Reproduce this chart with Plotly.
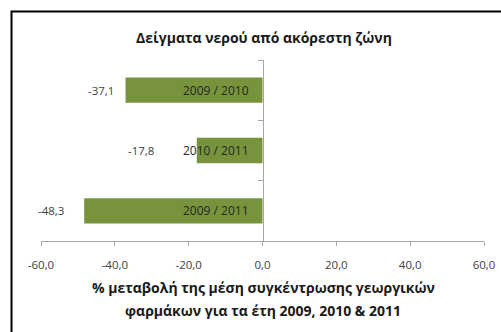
import plotly.graph_objects as go

categories = ["2009 / 2010", "2010 / 2011", "2009 / 2011"]
values = [-37.1, -17.8, -48.3]
tick_values = [-60, -40, -20, 0, 20, 40, 60]
tick_labels = ["-60,0", "-40,0", "-20,0", "0,0", "20,0", "40,0", "60,0"]
title_text = "Δείγματα νερού από ακόρεστη ζώνη"
axis_title_lines = ["% μεταβολή της μέση συγκέντρωσης γεωργικών",
                    "φαρμάκων για τα έτη 2009, 2010 & 2011"]

# pixel offsets of the value labels from the bar tips (as placed in the reference)
label_shift = [-10, -41, -18]

FONT = "Open Sans"
W, H = 501, 332
L, R, T, B = 41, 17, 60, 91
pw, ph = W - L - R, H - T - B

fig = go.Figure()
fig.add_trace(go.Bar(
    y=categories, x=values, orientation="h",
    marker=dict(color="#77933C", line=dict(width=0)),
    width=0.42, hoverinfo="skip",
))

ann = []
for c, v, s in zip(categories, values, label_shift):
    ann.append(dict(x=v, y=c, xref="x", yref="y", text=f"{v:.1f}".replace(".", ","),
                    showarrow=False, xanchor="right", xshift=s,
                    font=dict(family=FONT, size=11.5, color="#404040")))
    ann.append(dict(x=0, y=c, xref="x", yref="y", text=c,
                    showarrow=False, xanchor="right", xshift=-12,
                    font=dict(family=FONT, size=12, color="#262626")))

ann.append(dict(x=(264 - L) / pw, y=(H - B - 37) / ph, xref="paper", yref="paper",
                text="<b>" + title_text + "</b>", showarrow=False, yanchor="middle",
                font=dict(family=FONT, size=14, color="#1a1a1a")))
for i, line in enumerate(axis_title_lines):
    py = [287, 310][i]
    ann.append(dict(x=(263 - L) / pw, y=(H - B - py) / ph, xref="paper", yref="paper",
                    text="<b>" + line + "</b>", showarrow=False, yanchor="middle",
                    font=dict(family=FONT, size=14, color="#1a1a1a")))

fig.update_layout(
    width=W, height=H, margin=dict(l=L, r=R, t=T, b=B, autoexpand=False),
    paper_bgcolor="white", plot_bgcolor="white",
    showlegend=False, annotations=ann,
    xaxis=dict(range=[-60, 60], tickvals=tick_values, ticktext=tick_labels,
               automargin=False,
               showgrid=False, zeroline=False, showline=True, linecolor="#A6A6A6",
               linewidth=1, ticks="outside", ticklen=4, tickcolor="#A6A6A6",
               ticklabelstandoff=9,
               tickfont=dict(family=FONT, size=11.5, color="#404040"), fixedrange=True),
    yaxis=dict(categoryorder="array", categoryarray=categories[::-1],
               anchor="free", position=0.5, showgrid=False, zeroline=False,
               automargin=False,
               showline=True, linecolor="#A6A6A6", linewidth=1,
               ticks="outside", ticklen=5, tickcolor="#A6A6A6", tickson="boundaries",
               showticklabels=False, fixedrange=True),
    shapes=[dict(type="rect", xref="paper", yref="paper",
                 x0=(11.5 - L) / pw, x1=(W + 20 - L) / pw,
                 y0=(H - B - (H + 20)) / ph, y1=(H - B - 11.5) / ph,
                 line=dict(color="black", width=2), layer="below")],
)

fig.write_html("out.html")
